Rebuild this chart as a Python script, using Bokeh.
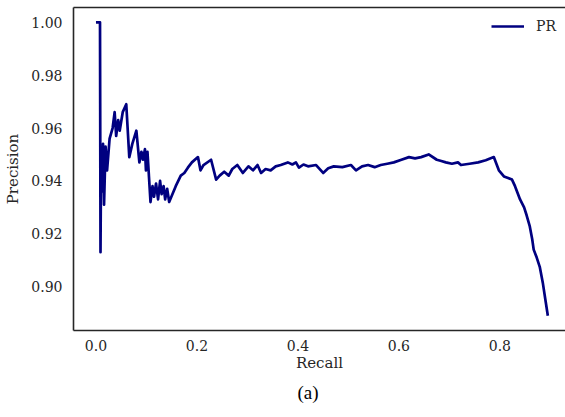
from bokeh.plotting import figure
from bokeh.models import ColumnDataSource, LinearAxis, FixedTicker, Range1d, Legend, LegendItem, Title
from bokeh.embed import file_html
from bokeh.resources import INLINE

recall = [0.000, 0.008, 0.009, 0.010, 0.012, 0.014, 0.016, 0.019, 0.022, 0.027,
          0.033, 0.037, 0.040, 0.044, 0.047, 0.053, 0.060, 0.066, 0.072, 0.080,
          0.086, 0.090, 0.093, 0.097, 0.099, 0.102, 0.108, 0.112, 0.115, 0.119,
          0.123, 0.127, 0.130, 0.134, 0.137, 0.141, 0.145, 0.158, 0.168, 0.175,
          0.182, 0.190, 0.202, 0.207, 0.213, 0.228, 0.238, 0.245, 0.254, 0.263,
          0.270, 0.280, 0.291, 0.302, 0.311, 0.320, 0.327, 0.336, 0.346, 0.356,
          0.366, 0.380, 0.389, 0.396, 0.402, 0.411, 0.420, 0.436, 0.450, 0.460,
          0.471, 0.488, 0.505, 0.515, 0.527, 0.539, 0.552, 0.564, 0.577, 0.590,
          0.605, 0.620, 0.632, 0.644, 0.659, 0.675, 0.684, 0.693, 0.705, 0.717,
          0.723, 0.740, 0.757, 0.772, 0.788, 0.798, 0.808, 0.815, 0.824, 0.830,
          0.840, 0.848, 0.853, 0.859, 0.864, 0.867, 0.873, 0.879, 0.885, 0.891,
          0.895]
precision = [1.000, 1.000, 0.913, 0.945, 0.936, 0.954, 0.931, 0.953, 0.944, 0.956,
             0.960, 0.966, 0.957, 0.963, 0.959, 0.966, 0.969, 0.949, 0.954, 0.959,
             0.947, 0.951, 0.948, 0.952, 0.944, 0.951, 0.932, 0.938, 0.934, 0.939,
             0.933, 0.940, 0.935, 0.938, 0.933, 0.937, 0.932, 0.938, 0.942, 0.943,
             0.945, 0.947, 0.949, 0.944, 0.946, 0.948, 0.9405, 0.942, 0.9435, 0.942,
             0.9445, 0.946, 0.943, 0.9455, 0.944, 0.946, 0.943, 0.9445, 0.944, 0.9455,
             0.946, 0.947, 0.9462, 0.947, 0.945, 0.9462, 0.9455, 0.946, 0.943, 0.9448,
             0.9455, 0.9452, 0.946, 0.944, 0.9455, 0.946, 0.9452, 0.946, 0.9465, 0.947,
             0.948, 0.949, 0.9485, 0.949, 0.950, 0.948, 0.9475, 0.947, 0.9465, 0.947,
             0.946, 0.9465, 0.947, 0.9478, 0.949, 0.944, 0.9417, 0.9412, 0.9405, 0.938,
             0.933, 0.930, 0.927, 0.923, 0.918, 0.914, 0.911, 0.9075, 0.9015, 0.894,
             0.889]

x_ticks = [0.0, 0.2, 0.4, 0.6, 0.8]
x_tick_labels = ["0.0", "0.2", "0.4", "0.6", "0.8"]
y_ticks = [0.90, 0.92, 0.94, 0.96, 0.98, 1.00]
y_tick_labels = ["0.90", "0.92", "0.94", "0.96", "0.98", "1.00"]

TEXT = "#262626"
SERIF = "DejaVu Serif"

p = figure(width=565, height=417, output_backend="svg", toolbar_location=None,
           x_range=Range1d(-0.0445, 0.930), y_range=Range1d(0.8834, 1.0056),
           x_axis_location=None, y_axis_location=None,
           min_border_left=73, min_border_right=0, min_border_top=7, min_border_bottom=87)
p.outline_line_color = None
p.xgrid.visible = False
p.ygrid.visible = False
p.background_fill_color = "white"
p.border_fill_color = "white"

src = ColumnDataSource(dict(recall=recall, precision=precision))
r = p.line("recall", "precision", source=src, line_color="#000080", line_width=2.7,
           line_join="round")

def style_axis(ax):
    ax.axis_line_color = TEXT
    ax.axis_line_width = 1.6
    ax.major_tick_line_color = None
    ax.minor_tick_line_color = None
    ax.major_tick_out = 0
    ax.major_tick_in = 0
    ax.minor_tick_out = 0
    ax.minor_tick_in = 0
    ax.major_label_text_font = SERIF
    ax.major_label_text_font_size = "14px"
    ax.major_label_text_color = TEXT
    ax.axis_label_text_font = SERIF
    ax.axis_label_text_font_size = "15px"
    ax.axis_label_text_font_style = "normal"
    ax.axis_label_text_color = TEXT

xax = LinearAxis(ticker=FixedTicker(ticks=x_ticks), axis_label="Recall")
style_axis(xax)
xax.major_label_overrides = dict(zip(x_ticks, x_tick_labels))
xax.major_label_standoff = 9
xax.axis_label_standoff = 0
p.add_layout(xax, "below")

yax = LinearAxis(ticker=FixedTicker(ticks=y_ticks), axis_label="Precision")
style_axis(yax)
yax.major_label_overrides = dict(zip(y_ticks, y_tick_labels))
yax.major_label_standoff = 11
yax.axis_label_standoff = 6
p.add_layout(yax, "left")

top = LinearAxis(ticker=FixedTicker(ticks=[]))
style_axis(top)
top.major_label_standoff = 0
p.add_layout(top, "above")

legend = Legend(items=[LegendItem(label="PR", renderers=[r])], location="top_right",
                border_line_color=None, background_fill_alpha=0, margin=9, padding=1,
                glyph_width=33, label_standoff=12,
                label_text_font=SERIF, label_text_font_size="14px", label_text_color=TEXT)
p.add_layout(legend)

cap = Title(text="(a)", align="left", offset=224, text_font="Liberation Serif",
            text_font_size="19px", text_font_style="normal", text_color="black")
p.add_layout(cap, "below")

open("out.html", "w").write(file_html(p, INLINE))
